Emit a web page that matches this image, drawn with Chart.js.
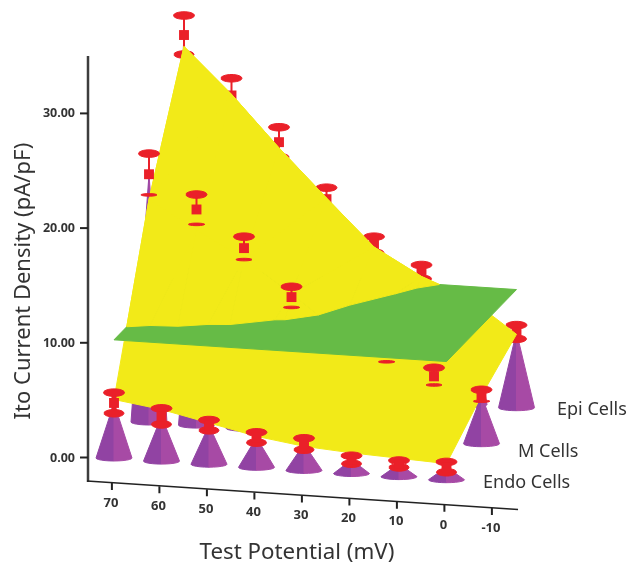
<!DOCTYPE html>
<html>
<head>
<meta charset="utf-8">
<title>Ito Current Density</title>
<script src="https://cdn.jsdelivr.net/npm/chart.js@4"></script>
<style>
  html, body { margin: 0; padding: 0; background: #fff; }
  canvas { display: block; }
</style>
</head>
<body>
<canvas id="chart" width="633" height="570"></canvas>
<script>
// values, left to right along the potential axis
const potentials = [70, 60, 50, 40, 30, 20, 10, 0];
const potentialTicks = ["70", "60", "50", "40", "30", "20", "10", "0", "-10"];
const currentTicks = ["0.00", "10.00", "20.00", "30.00"];
const cellRows = ["Endo Cells", "M Cells", "Epi Cells"];

const endoSurface = [5.1, 4.5, 3.6, 2.7, 2.1, 1.8, 1.6, 1.4];
const mSurface = [19.4, 17, 14.8, 12, 9, 6.3, 5.3, 4.2];
const epiSurface = [29.6, 25.7, 21.3, 17.2, 13.2, 10.9, 9.3, 6.4];

const endoMeans = [4.8, 3.9, 3.4, 2.6, 2.3, 1.2, 1.1, 1.1];
const mMeans = [21.6, 18.8, 15.7, 11.7, 9.3, 7.5, 5.6, 4.2];
const epiMeans = [30.6, 25.6, 21.8, 17.1, 13.4, 11.3, 9, 6.6];

const endoErrors = [0.9, 0.7, 0.45, 0.45, 0.5, 0.35, 0.3, 0.45];
const mErrors = [1.8, 1.3, 1, 0.9, 0.7, 0.9, 0.75, 0.5];
const epiErrors = [1.7, 1.5, 1.3, 1, 0.7, 0.6, 0.5, 0.6];

const planeLevel = 10.3;

const YELLOW = "#f2ea18";
const GREEN = "#66bb46";
const RED = "#ea2029";
const PURPLE_DARK = "#9143a3";
const PURPLE_LIGHT = "#a74aa5";
const AXIS = "#3d3d3d";
const TEXT = "#333";

// 3d view: potential runs right, cell row runs back, current runs up
function project(p, row, z) {
  const a = (70 - p) / 10;
  return {
    x: 114 + a * 47.5 + row * 35,
    y: 458 + a * 3.1 - row * 36 - z * 11.47,
  };
}

const layers = [];

function shape(points, color) {
  layers.push({
    data: [...points, points[0]],
    showLine: true,
    fill: "shape",
    backgroundColor: color,
    borderColor: color,
    borderWidth: 1,
    pointRadius: 0,
    tension: 0,
  });
}

function line(points, color, width) {
  layers.push({
    data: points,
    showLine: true,
    fill: false,
    borderColor: color,
    borderWidth: width,
    pointRadius: 0,
    tension: 0,
  });
}

function squares(points, size) {
  layers.push({
    data: points,
    showLine: false,
    pointStyle: "rect",
    pointRadius: size,
    backgroundColor: RED,
    borderColor: RED,
    borderWidth: 0,
  });
}

function ellipse(c, rx, ry) {
  const pts = [];
  for (let i = 0; i < 18; i++) {
    const t = (i / 18) * Math.PI * 2;
    pts.push({ x: c.x + rx * Math.cos(t), y: c.y + ry * Math.sin(t) });
  }
  return pts;
}

function cone(p, row, z) {
  const base = project(p, row, 0);
  const apex = project(p, row, z);
  const rx = 18, ry = 3;
  const left = [apex], right = [apex];
  for (let i = 0; i <= 6; i++) {
    const t = (i / 6) * Math.PI / 2;
    left.push({ x: base.x - rx * Math.cos(t), y: base.y + ry * Math.sin(t) });
    right.push({ x: base.x + rx * Math.cos(t), y: base.y + ry * Math.sin(t) });
  }
  shape(left, PURPLE_DARK);
  shape(right, PURPLE_LIGHT);
}

function marker(p, row, mean, err, thinLower, stem) {
  const top = project(p, row, mean + err);
  const mid = project(p, row, mean);
  const low = project(p, row, mean - err);
  line([top, thinLower ? mid : low], RED, stem);
  shape(ellipse(top, 10.5, 3.8), RED);
  shape(ellipse(low, thinLower ? 8 : 10, thinLower ? 1.3 : 3.8), RED);
  squares([mid], 7);
}

function rowCell(values, i, row) {
  return { p: potentials[i], row, z: values[i] };
}

// part of a surface triangle that stands above the green plane
function clipAbove(tri) {
  const out = [];
  for (let i = 0; i < 3; i++) {
    const a = tri[i], b = tri[(i + 1) % 3];
    if (a.z >= planeLevel) out.push(a);
    if ((a.z >= planeLevel) !== (b.z >= planeLevel)) {
      const t = (planeLevel - a.z) / (b.z - a.z);
      out.push({
        p: a.p + (b.p - a.p) * t,
        row: a.row + (b.row - a.row) * t,
        z: planeLevel,
      });
    }
  }
  return out;
}

function upperSurface() {
  const rows = [endoSurface, mSurface, epiSurface];
  for (let r = 0; r < 2; r++) {
    for (let i = 0; i < potentials.length - 1; i++) {
      const a = rowCell(rows[r], i, r);
      const b = rowCell(rows[r], i + 1, r);
      const c = rowCell(rows[r + 1], i + 1, r + 1);
      const d = rowCell(rows[r + 1], i, r + 1);
      [[a, b, c], [a, c, d]].forEach((tri) => {
        const part = clipAbove(tri);
        if (part.length > 2) {
          shape(part.map((q) => project(q.p, q.row, q.z)), YELLOW);
        }
      });
    }
  }
}

function axisPoint(p, z) {
  return project(p, -0.06, z);
}

// axes
line([{ x: 88, y: 56 }, { x: 88, y: 482 }], AXIS, 2.5);
currentTicks.forEach((t) => {
  const y = project(70, 0, Number(t)).y - 0.5;
  line([{ x: 80, y }, { x: 88, y }], "#222", 2);
});
line([{ x: 87, y: 481 }, axisPoint(-15.5, -2)], "#222", 1.5);
potentialTicks.forEach((t) => {
  const a = axisPoint(Number(t), -2);
  line([a, { x: a.x, y: a.y + 7 }], "#222", 2);
});

// back row, then the middle row cones, all behind the sheet
potentials.forEach((p, i) => {
  cone(p, 2, epiMeans[i]);
  marker(p, 2, epiMeans[i], epiErrors[i], false, 2);
});
potentials.forEach((p, i) => cone(p, 1, mMeans[i]));

// whole yellow sheet
const sheetEdge = [];
potentials.forEach((p, i) => sheetEdge.push(project(p, 0, endoSurface[i])));
sheetEdge.push(project(0, 1, mSurface[7]));
for (let i = potentials.length - 1; i >= 0; i--) {
  sheetEdge.push(project(potentials[i], 2, epiSurface[i]));
}
sheetEdge.push(project(70, 1, mSurface[0]));
shape(sheetEdge, YELLOW);

potentials.forEach((p, i) => {
  if (mMeans[i] < planeLevel) marker(p, 1, mMeans[i], mErrors[i], true, 2);
});

// green plane cuts through the sheet
shape([
  project(70, 0, planeLevel),
  project(0, 0, planeLevel),
  project(0, 2, planeLevel),
  project(70, 2, planeLevel),
], GREEN);
upperSurface();

potentials.forEach((p, i) => {
  if (mMeans[i] >= planeLevel) marker(p, 1, mMeans[i], mErrors[i], true, 2);
});

// front row sits on top
potentials.forEach((p, i) => {
  cone(p, 0, endoMeans[i]);
  marker(p, 0, endoMeans[i], endoErrors[i], false, 5);
});

const labelsPlugin = {
  id: "labels",
  afterDraw(chart) {
    const { ctx, scales } = chart;
    const px = (x) => scales.x.getPixelForValue(x);
    const py = (y) => scales.y.getPixelForValue(y);
    ctx.save();
    ctx.fillStyle = TEXT;
    ctx.textBaseline = "middle";

    ctx.font = "bold 12.5px 'Noto Sans'";
    ctx.textAlign = "right";
    currentTicks.forEach((t) => {
      ctx.fillText(t, px(75), py(project(70, 0, Number(t)).y));
    });

    ctx.font = "bold 13px 'Noto Sans'";
    ctx.textAlign = "center";
    potentialTicks.forEach((t) => {
      const a = axisPoint(Number(t), -2);
      ctx.fillText(t, px(a.x - 1), py(a.y + 20));
    });

    ctx.font = "18px 'Noto Sans'";
    ctx.textAlign = "left";
    ctx.fillText(cellRows[2], px(557), py(410));
    ctx.fillText(cellRows[1], px(518), py(452));
    ctx.fillText(cellRows[0], px(483), py(483));

    ctx.font = "22.3px 'Noto Sans'";
    ctx.textAlign = "center";
    ctx.fillText("Test Potential (mV)", px(297), py(553));
    ctx.translate(px(24), py(281));
    ctx.rotate(-Math.PI / 2);
    ctx.font = "22px 'Noto Sans'";
    ctx.fillText("Ito Current Density (pA/pF)", 0, 0);
    ctx.restore();
  },
};

new Chart(document.getElementById("chart"), {
  type: "scatter",
  // chart.js paints dataset 0 last, so flip the paint order
  data: { datasets: layers.slice().reverse() },
  options: {
    responsive: false,
    animation: false,
    layout: { padding: 0, autoPadding: false },
    plugins: { legend: { display: false }, tooltip: { enabled: false } },
    scales: {
      x: { type: "linear", min: 0, max: 633, display: false },
      y: { type: "linear", min: 0, max: 570, reverse: true, display: false },
    },
  },
  plugins: [labelsPlugin],
});
</script>
</body>
</html>
